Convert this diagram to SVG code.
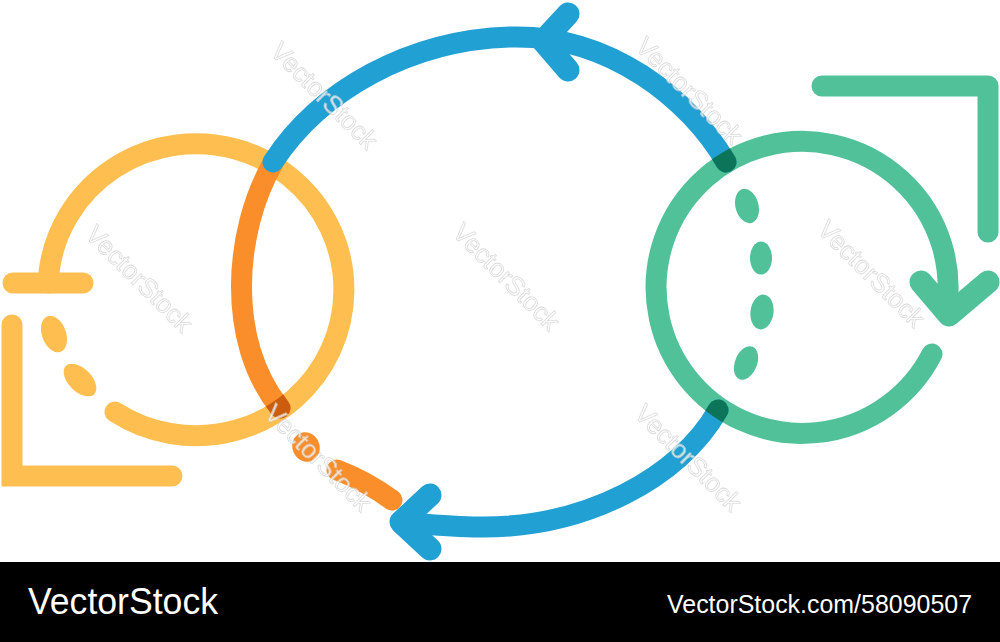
<svg xmlns="http://www.w3.org/2000/svg" width="1000" height="642" viewBox="0 0 1000 642">
  <style>
    .s { fill: none; stroke-width: 21; stroke-linecap: round; stroke-linejoin: round; }
    .h { stroke-width: 23; }
    .y { stroke: #ffbe50; }
    .o { stroke: #f98e2b; }
    .b { stroke: #21a0d3; }
    .g { stroke: #50c198; }
    .fy { fill: #ffbe50; }
    .fo { fill: #f98e2b; }
    .fg { fill: #50c198; }
    .wm { font-family: "Liberation Sans", Arial, sans-serif; font-size: 26px; fill: #ffffff; stroke: #cfcfcf; stroke-width: 0.8; opacity: 0.75; }
    .ft { font-family: "Liberation Sans", Arial, sans-serif; fill: #ffffff; }
  </style>
  <defs>
    <mask id="yellowRing" maskUnits="userSpaceOnUse" x="0" y="0" width="1000" height="642">
      <path d="M49,272 A148,146 0 1 1 115,412" fill="none" stroke="#fff" stroke-width="21"/>
      <rect x="0" y="0" width="1000" height="330" fill="#000"/>
    </mask>
    <mask id="greenRing" maskUnits="userSpaceOnUse" x="0" y="0" width="1000" height="642">
      <path d="M932,354 A146,146 0 1 1 946,312" fill="none" stroke="#fff" stroke-width="21"/>
    </mask>
  </defs>
  <rect width="1000" height="642" fill="#ffffff"/>

  <g id="yellow-cycle">
    <path class="s y" d="M49,283 L49,272 A148,146 0 1 1 115,412"/>
    <line class="s y" x1="13" y1="283" x2="83" y2="283"/>
    <polyline class="s y" style="stroke-linejoin:miter" points="12,325 12,476 172,476"/>
    <ellipse class="fy" cx="54" cy="334" rx="12" ry="19" transform="rotate(-20 54 334)"/>
    <ellipse class="fy" cx="80" cy="380" rx="20" ry="11.5" transform="rotate(45 80 380)"/>
  </g>

  <g id="green-cycle">
    <path class="s g" d="M932,354 A146,146 0 1 1 946,312"/>
    <polyline class="s h g" points="921,282 949,315 988,282"/>
    <polyline class="s g" points="822,86 988,86 988,232"/>
    <ellipse class="fg" cx="747" cy="206" rx="11.5" ry="17.5" transform="rotate(-15 747 206)"/>
    <ellipse class="fg" cx="761" cy="258" rx="11" ry="16.5"/>
    <ellipse class="fg" cx="762" cy="312" rx="11.5" ry="17.5" transform="rotate(8 762 312)"/>
    <ellipse class="fg" cx="746" cy="363" rx="11" ry="17.5" transform="rotate(22 746 363)"/>
  </g>

  <g id="connectors">
    <path class="s o" d="M272,165 C235,230 225,340 280,408"/>
    <path class="s" stroke="#cc5c0e" mask="url(#yellowRing)" d="M272,165 C235,230 225,340 280,408"/>
    <ellipse class="fo" cx="306" cy="447" rx="13.5" ry="15" transform="rotate(-25 306 447)"/>
    <path class="s o" d="M337,470 Q366,481 392,500"/>

    <path class="s b" d="M273,162 C320,90 410,40 510,37 C610,34 690,100 726,162"/>
    <polyline class="s h b" points="568,14 543,41 568,70"/>
    <path class="s b" d="M718,410 C680,478 585,528 480,527 C450,527 425,524 402,522"/>
    <polyline class="s h b" points="430,495 401,522 430,549"/>

    <path class="s" stroke="#0c7559" mask="url(#greenRing)" d="M273,162 C320,90 410,40 510,37 C610,34 690,100 726,162"/>
    <path class="s" stroke="#0c7559" mask="url(#greenRing)" d="M718,410 C680,478 585,528 480,527"/>
  </g>

  <g id="watermarks">
    <text class="wm" transform="translate(318,102) rotate(45)" text-anchor="middle">VectorStock</text>
    <text class="wm" transform="translate(133,285) rotate(45)" text-anchor="middle">VectorStock</text>
    <text class="wm" transform="translate(500,283) rotate(45)" text-anchor="middle">VectorStock</text>
    <text class="wm" transform="translate(683,97) rotate(45)" text-anchor="middle">VectorStock</text>
    <text class="wm" transform="translate(865,280) rotate(45)" text-anchor="middle">VectorStock</text>
    <text class="wm" transform="translate(682,464) rotate(45)" text-anchor="middle">VectorStock</text>
    <text class="wm" transform="translate(312,464) rotate(45)" text-anchor="middle">VectorStock</text>
  </g>

  <g id="footer">
    <rect x="0" y="562" width="1000" height="80" fill="#000000"/>
    <text class="ft" x="28" y="614" font-size="36" textLength="190" lengthAdjust="spacingAndGlyphs">VectorStock</text>
    <text class="ft" x="667" y="613" font-size="26" textLength="305" lengthAdjust="spacingAndGlyphs">VectorStock.com/58090507</text>
  </g>
</svg>
